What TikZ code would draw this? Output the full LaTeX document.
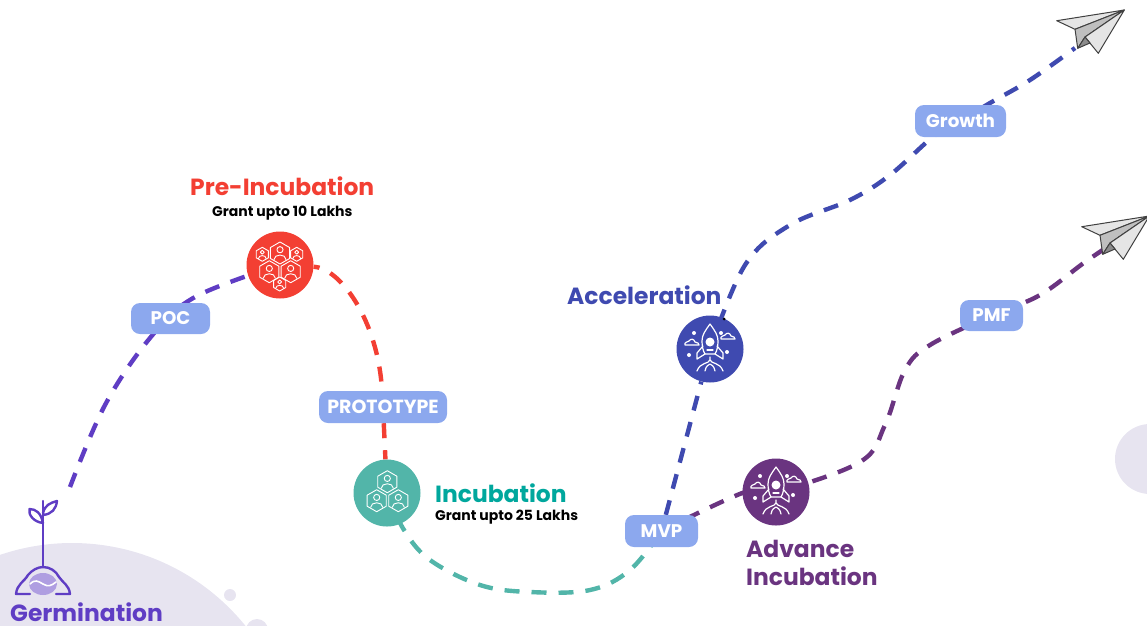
\documentclass[tikz,border=0pt]{standalone}
\usepackage{fontspec}
\setmainfont{Poppins}
\usetikzlibrary{backgrounds}
\definecolor{cbg}{HTML}{E7E4F0}
\definecolor{cpill}{HTML}{8CA8EE}
\definecolor{cgerm}{HTML}{5F3DC4}
\definecolor{cred}{HTML}{F33F33}
\definecolor{cteal}{HTML}{52B5A9}
\definecolor{ctealt}{HTML}{00A79D}
\definecolor{cblue}{HTML}{3F4AB0}
\definecolor{cplum}{HTML}{6A3480}
\tikzset{
  stage/.style={circle,minimum size=67pt,inner sep=0pt,fill=#1},
  pill/.style={rounded corners=9pt,fill=cpill,text=white,font=\bfseries\fontsize{18.3}{18.3}\selectfont,inner sep=0pt},
  title/.style={font=\bfseries\fontsize{23.4}{23.4}\selectfont,inner sep=0pt,anchor=base west,text=#1},
  grant/.style={font=\bfseries\fontsize{14}{14}\selectfont,inner sep=0pt,anchor=base west,text=black},
  dashline/.style={line width=4.4pt,dash pattern=on 15pt off 12pt,draw=#1},
  icon/.style={draw=white,line width=1.2pt,line join=round,line cap=round},
  person/.pic={
    \draw[icon,line width=.9pt] (0,-1) -- (.87,-.5) -- (.87,.5) -- (0,1) -- (-.87,.5) -- (-.87,-.5) -- cycle;
    \draw[icon,line width=.9pt] (0,-.3) circle[radius=.28];
    \draw[icon,line width=.9pt] (-.55,.6) .. controls (-.55,.05) and (.55,.05) .. (.55,.6);
  },
  rocket/.pic={
    \draw[icon] (0,-25) .. controls (5,-18) and (8,-14) .. (8,-8) .. controls (8,-3) and (7,2) .. (5,5) -- (-5,5) .. controls (-7,2) and (-8,-3) .. (-8,-8) .. controls (-8,-14) and (-5,-18) .. (0,-25) -- cycle;
    \fill[white] (0,-7) circle[radius=4.5];
    \draw[icon] (-3,1) -- (3,1);
    \draw[icon] (-7,-3) -- (-13,4) -- (-13,10) -- (-5,5);
    \draw[icon] (7,-3) -- (13,4) -- (13,10) -- (5,5);
    \draw[icon] (0,8) -- (0,11) .. controls (-1,15) and (-10,13) .. (-13,22);
    \draw[icon] (0,11) .. controls (1,15) and (10,13) .. (13,22);
    \draw[icon] (-5,22) .. controls (-4,16) and (-1,16) .. (0,15) .. controls (1,16) and (4,16) .. (5,22);
    \draw[icon] (-25,-4) .. controls (-26,-7) and (-22,-7) .. (-21,-8) .. controls (-19,-11) and (-16,-10) .. (-15,-7) .. controls (-12,-7) and (-11,-5) .. (-11,-4) -- cycle;
    \draw[icon] (11,-10) .. controls (10,-13) and (14,-13) .. (15,-14) .. controls (17,-17) and (20,-16) .. (21,-13) .. controls (24,-13) and (25,-11) .. (25,-10) -- cycle;
    \fill[white] (-16,-16) circle[radius=2] (11,-16) circle[radius=2] (-21,6) circle[radius=2] (17,3) circle[radius=2];
  },
  plane/.pic={
    \begin{scope}[draw=black!75,line width=1pt,line join=round]
      \filldraw[fill=black!10] (1124.3,10) -- (1056.7,20.7) -- (1075,29.3) -- cycle;
      \filldraw[fill=black!25] (1124.3,10) -- (1075,29.3) -- (1077.7,48.3) -- (1085,37) -- cycle;
      \filldraw[fill=black!10] (1124.3,10) -- (1085,37) -- (1098.3,53.3) -- cycle;
      \filldraw[fill=black!45] (1077.7,48.3) -- (1085,37) -- (1090,43) -- cycle;
    \end{scope}
  }
}
\begin{document}
\begin{tikzpicture}[x=1pt,y=-1pt]
\useasboundingbox (0,0) rectangle (1147,625);
% stages
\node[stage=cred] (pre) at (280,265) {};
\node[stage=cteal] (inc) at (387,493) {};
\node[stage=cblue] (acc) at (710,349) {};
\node[stage=cplum] (adv) at (776,492) {};
% pills
\node[pill,minimum width=79pt,minimum height=31pt] (poc) at (170.5,318.5) {POC};
\node[pill,minimum width=128pt,minimum height=32pt,font=\bfseries\fontsize{19}{19}\selectfont] (proto) at (383,407) {PROTOTYPE};
\node[pill,minimum width=73pt,minimum height=32pt] (mvp) at (661.5,531) {MVP};
\node[pill,minimum width=91pt,minimum height=32pt] (growth) at (960.5,121) {Growth};
\node[pill,minimum width=63pt,minimum height=31pt] (pmf) at (991.5,315.5) {PMF};
% free ends
\coordinate (germ) at (70,487);
\coordinate (end1) at (1075,48);
\coordinate (end2) at (1118,240);
\begin{pgfonlayer}{background}
  \fill[cbg] (72,766) circle[radius=223];
  \fill[cbg] (230,595) circle[radius=6];
  \fill[cbg] (257,630) circle[radius=11];
  \fill[cbg] (1150,459) circle[radius=35];
  \draw[dashline=cgerm] plot[smooth,tension=.6] coordinates {(germ) (105,405) (150,338) (195,297) (pre)};
  \draw[dashline=cred,dash phase=9pt] (pre) .. controls (340,268) and (378,320) .. (proto);
  \draw[dashline=cred] (proto) -- (inc);
  \draw[dashline=cteal] plot[smooth,tension=.6] coordinates {(inc) (404,530) (430,560) (480,585) (530,592) (590,590) (630,570) (mvp)};
  \draw[dashline=cblue] (mvp) -- (acc);
  \draw[dashline=cblue] plot[smooth,tension=.6] coordinates {(acc) (745,265) (790,225) (850,200) (890,175) (935,135) (growth) (990,103) (1030,80) (end1)};
  \draw[dashline=cplum] plot[smooth,tension=.6] coordinates {(mvp) (745,492) (adv) (860,462) (885,425) (905,370) (930,345) (pmf) (1040,295) (1085,262) (end2)};
\end{pgfonlayer}
% planes
\pic {plane};
\pic[xshift=25pt,yshift=-206pt] {plane};
% person icons
\foreach \x/\y/\r in {280/253/11,269.3/271.7/11,290.7/271.7/11,262.3/254.3/7,296.7/254.3/7,279.7/284/7,387.3/481.7/11,376.7/500.7/11,398.3/500.7/11}{
  \begin{scope}[shift={(\x,\y)},scale=\r]
    \pic[transform shape] {person};
  \end{scope}
}
\pic at (710,349) {rocket};
\pic at (776,492) {rocket};
\fill[black] (724,319) circle[radius=1.5];
% germination icon
\begin{scope}[draw=cgerm,line width=2.4pt,line join=round,line cap=round]
  \fill[cgerm!50!white] (43,584) ellipse[x radius=14,y radius=11];
  \draw[white,line width=1.6pt] (30,584) .. controls (35,579) and (38,581) .. (43,584) .. controls (48,587) and (51,586) .. (56,582);
  \draw (43,501) -- (43,567);
  \draw (43,513) .. controls (45,505) and (50,503) .. (57,501) .. controls (56,509) and (52,514) .. (43,515);
  \draw (43,523) .. controls (34,522) and (28,515) .. (29.5,509) .. controls (36,509) and (41,513) .. (43,523);
  \draw (30,594) -- (16,594) .. controls (17,584) and (24,582) .. (28,575) .. controls (32,570) and (38,567) .. (43,567) .. controls (50,567) and (56,571) .. (59,577) .. controls (63,583) and (69,585) .. (70,594) -- (56,594);
\end{scope}
% titles
\node[title=cgerm] (tgerm) at (10,621) {Germination};
\node[title=cred] (tpre) at (190,195) {Pre-Incubation};
\node[grant] (gpre) at (212,216.5) {Grant upto 10 Lakhs};
\node[title=ctealt] (tinc) at (435,502) {Incubation};
\node[grant] (ginc) at (435,520.5) {Grant upto 25 Lakhs};
\node[title=cblue] (tacc) at (567,304) {Acceleration};
\node[title=cplum] (tadv) at (746,557) {Advance};
\node[title=cplum] (tadv2) at (746,585) {Incubation};
\end{tikzpicture}
\end{document}
